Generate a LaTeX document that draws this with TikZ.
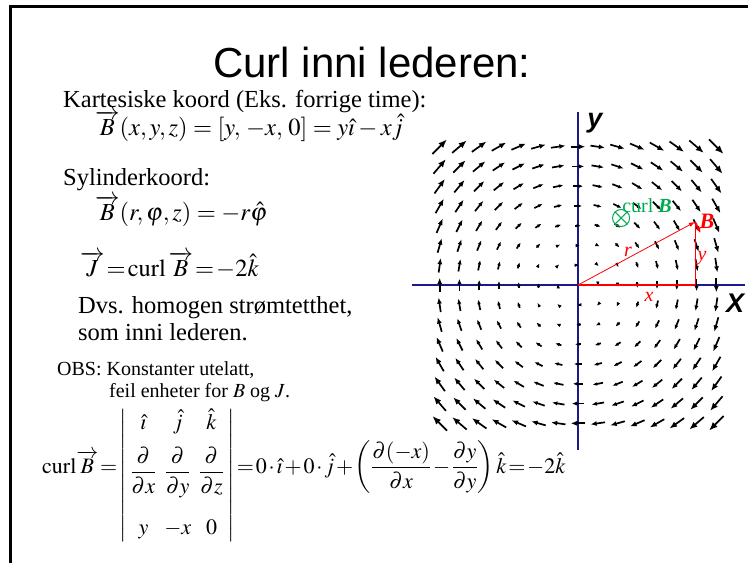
\documentclass[tikz,border=0pt]{standalone}
\usepackage{amsmath}
\usepackage{mathptmx}
\usepackage{fontspec}
\setmainfont{Liberation Serif}
\setsansfont{Liberation Sans}
\usetikzlibrary{arrows.meta}
\definecolor{aksblaa}{RGB}{25,25,140}
\definecolor{kurlgronn}{RGB}{0,170,80}
\tikzset{
  akse/.style={aksblaa, line width=2.2pt},
  felt/.style={line width=1.7pt},
  tekst/.style={anchor=base west, inner sep=0pt, font=\fontsize{24.5}{29}\selectfont},
  liten/.style={anchor=base west, inner sep=0pt, font=\fontsize{20}{24}\selectfont},
  rodtekst/.style={red, inner sep=0pt, font=\fontsize{20}{24}\selectfont\itshape},
  aksetekst/.style={inner sep=0pt, font=\sffamily\bfseries\itshape\fontsize{27}{32}\selectfont},
}
\newcommand{\tett}{\thickmuskip=1.5mu\medmuskip=1.5mu}

\begin{document}
\begin{tikzpicture}[x=1pt, y=-1pt]
    \useasboundingbox (0,0) rectangle (748,563);
    % ramme
    \draw[line width=2.5pt] (10.5,563) -- (10.5,6.5) -- (748,6.5);

    % tittel
    \node[anchor=base, inner sep=0pt, font=\sffamily\fontsize{42}{50}\selectfont] (tittel) at (372,77) {Curl inni lederen:};

    % tekst til venstre
    \node[tekst] (kart) at (63,107) {Kartesiske koord (Eks. forrige time):};
    \node[tekst] (bkart) at (95,135) {$\overrightarrow{B}(x,y,z)=\left[y,\,-x,\,0\right]=y\hat{\imath}-x\hat{j}$};
    \node[tekst] (syl) at (63,185) {Sylinderkoord:};
    \node[tekst] (bsyl) at (95,220) {$\overrightarrow{B}(r,\varphi,z)=-r\hat{\varphi}$};
    \node[tekst] (jcurl) at (80,276) {$\tett\overrightarrow{J}=\mathrm{curl}\,\overrightarrow{B}=-2\hat{k}$};
    \node[tekst] (dvs) at (78,313) {Dvs. homogen strømtetthet,};
    \node[tekst] (som) at (78,340) {som inni lederen.};
    \node[liten] (obs) at (57,375) {OBS: Konstanter utelatt,};
    \node[liten] (feil) at (109,397) {feil enheter for $B$ og $J$.};

    % determinant
    \node[anchor=base west, inner sep=0pt, font=\fontsize{22}{26}\selectfont] (det) at (42,473)
        {$\tett\arraycolsep=4pt\mathrm{curl}\overrightarrow{B}=\raisebox{-8pt}{$\displaystyle\tett\left|\begin{array}{ccc}
            \hat{\imath} & \hat{j} & \hat{k}\\[10pt]
            \dfrac{\partial}{\partial x} & \dfrac{\partial}{\partial y} & \dfrac{\partial}{\partial z}\\[30pt]
            y & -x & 0
          \end{array}\right|$}=0\cdot\hat{\imath}+0\cdot\hat{j}+\left(\dfrac{\partial(-x)}{\partial x}-\dfrac{\partial y}{\partial y}\right)\hat{k}=-2\hat{k}$};

    % vektorfelt
    \begin{scope}[shift={(578,285)}, x=19.76pt, y=19.76pt]
        \draw[akse] (-8.4,0) -- (8.45,0);
        \draw[akse] (0,-8.35) -- (0,8.76);
        \node[aksetekst] (yakse) at (0.86,8.2) {y};
        \node[aksetekst] (xakse) at (7.95,-0.91) {X};

        \foreach \i in {-7,...,7} {
            \foreach \j in {-7,...,7} {
                \pgfmathsetmacro\lengde{0.105*19.76*sqrt(\i*\i+\j*\j)}
                \pgfmathsetmacro\spiss{max(4.5,0.42*\lengde)}
                \pgfmathsetmacro\bredde{0.8*\spiss}
                \ifdim\lengde pt>0pt
                    \draw[felt, -{Latex[length=\spiss pt, width=\bredde pt]}]
                        (\i-0.0525*\j, \j+0.0525*\i) -- (\i+0.0525*\j, \j-0.0525*\i);
                \fi
            }
        }

        % trekant r, x, y
        \coordinate (O) at (0,0);
        \coordinate (P) at (5.92,3.19);
        \coordinate (Px) at (5.92,0);
        \draw[red, line width=2pt] (O) -- (Px);
        \draw[red, line width=0.8pt] (Px) -- (P);
        \draw[red, line width=0.8pt, -{Latex[length=6pt, width=4.5pt]}] (O) -- (P);
        \draw[red, line width=1.8pt, -{Latex[length=5pt, width=5pt]}] (P) -- ++(0.28,-0.55);
        \node[rodtekst] (rtekst) at (2.53,1.7) {r};
        \node[rodtekst] (ytekst) at (6.28,1.37) {y};
        \node[rodtekst] (xtekst) at (3.59,-0.61) {x};
        \node[red, inner sep=0pt, font=\fontsize{22}{26}\selectfont\bfseries\itshape] (btekst) at (6.53,3.24) {B};

        % curl B inn i planet
        \node[kurlgronn, draw, circle, line width=1pt, minimum size=17pt, inner sep=0pt] (inn) at (2.18,3.39) {};
        \draw[kurlgronn, line width=1pt] (inn.north east) -- (inn.south west);
        \draw[kurlgronn, line width=1pt] (inn.north west) -- (inn.south east);
        \node[kurlgronn, anchor=base west, inner sep=0pt, font=\fontsize{20}{24}\selectfont] (curltekst) at (2.23,3.69) {curl \textbf{\textit{B}}};
    \end{scope}
\end{tikzpicture}
\end{document}
